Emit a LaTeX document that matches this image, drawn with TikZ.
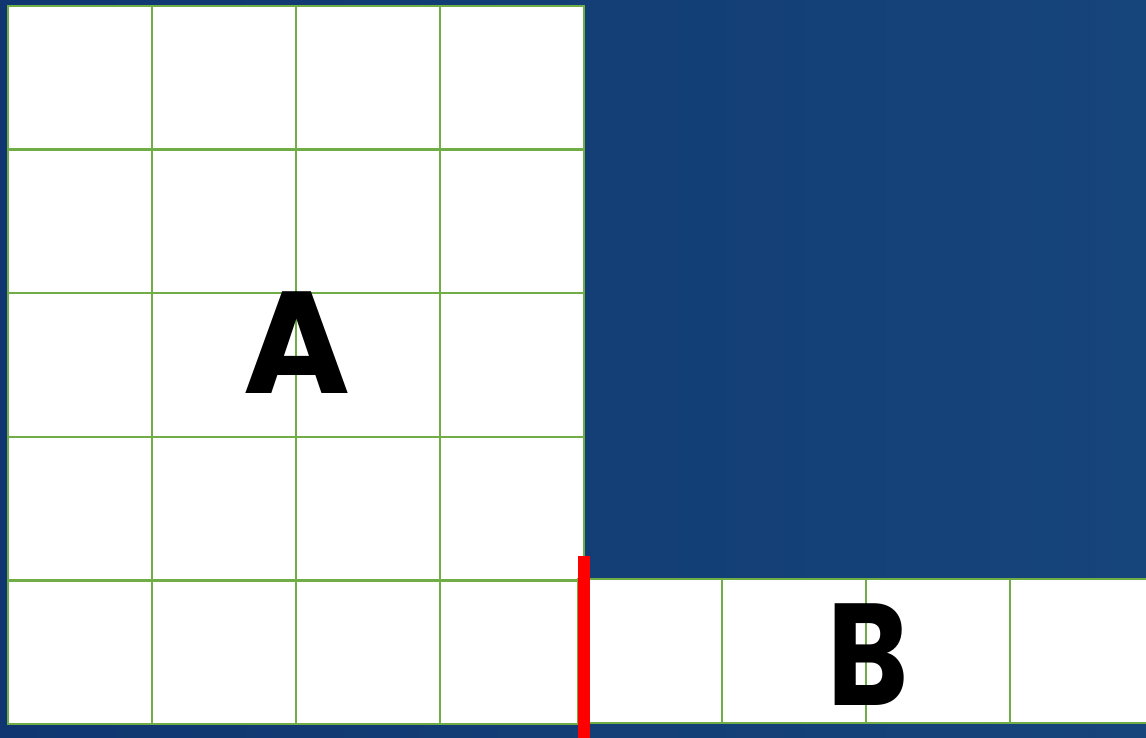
\documentclass[tikz,border=0pt]{standalone}
\usepackage{fontspec}
\setmainfont{Poppins}
\definecolor{bgdark}{HTML}{0F3670}
\definecolor{bgblue}{HTML}{16457B}
\definecolor{gridgreen}{HTML}{70AD47}
\begin{document}
\begin{tikzpicture}[x=1pt, y=-1pt,
    cellbox/.style={draw=gridgreen, line width=2.5pt, fill=white},
    letter/.style={font=\fontsize{145}{145}\selectfont\bfseries, text=black, inner sep=0pt},
    cut/.style={draw=red, line width=12pt},
  ]
    \useasboundingbox (0,0) rectangle (1146,738);
    \clip (0,0) rectangle (1146,738);
    \shade[left color=bgdark, right color=bgblue] (0,0) rectangle (1146,738);

    % Block A: 4 columns, 5 rows
    \foreach \c in {0,...,3}
      \foreach \r in {0,...,4}
        \draw[cellbox] ({8+144*\c},{6+143.6*\r}) rectangle +(144,143.6);

    % Block B: one row, runs off the right edge
    \foreach \c in {0,...,3}
      \draw[cellbox] ({578+144*\c},579) rectangle +(144,144);

    % Cut line
    \draw[cut] (584,556) -- (584,738);

    % Labels
    \node[letter] (labA) at (297,343) {A};
    \node[letter, xscale=0.85, transform shape] (labB) at (868,655) {B};
\end{tikzpicture}
\end{document}
